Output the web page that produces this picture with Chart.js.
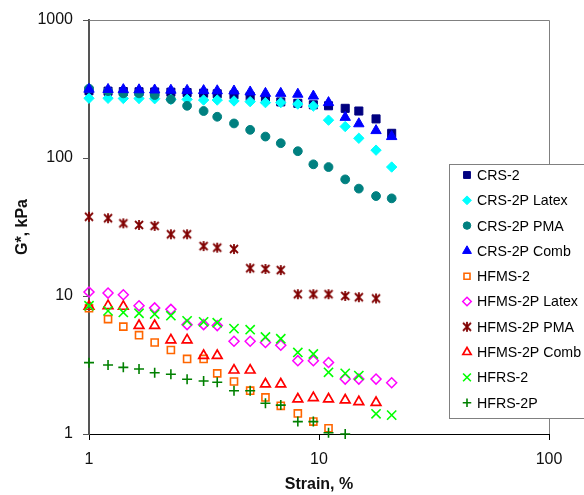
<!DOCTYPE html>
<html>
<head>
<meta charset="utf-8">
<script src="https://cdn.jsdelivr.net/npm/chart.js@4.4.1/dist/chart.umd.min.js"></script>
<style>
  html, body { margin: 0; padding: 0; background: #fff; }
  #wrap { width: 584px; height: 495px; position: relative; }
</style>
</head>
<body>
<div id="wrap"><canvas id="chart"></canvas></div>
<script>
// strain values (%) shared by all series
const strain = [1, 1.21, 1.41, 1.65, 1.93, 2.27, 2.67, 3.15, 3.61, 4.27, 5.02, 5.85, 6.82, 8.09, 9.45, 11.0, 13.0, 14.9, 17.7, 20.7];

// G*, kPa
const crs2        = [307, 305, 303, 302, 301, 300, 298, 295, 292, 287, 279, 266, 255, 249, 243, 239, 229, 219, 192, 151];
const crs2pLatex  = [271, 271, 270, 270, 269, 266, 266, 263, 263, 259, 256, 252, 252, 246, 238, 188, 169, 139, 114, 86];
const crs2pPma    = [318, 305, 294, 294, 286, 266, 239, 219, 199, 178, 160, 143, 128, 112, 90, 86, 70, 60, 53, 51];
const crs2pComb   = [315, 314, 313, 312, 311, 310, 309, 308, 307, 306, 301, 294, 294, 290, 281, 252, 197, 177, 158, 143];
const hfms2       = [8.15, 6.8, 6.0, 5.2, 4.6, 4.06, 3.5, 3.5, 2.75, 2.4, 2.06, 1.84, 1.6, 1.41, 1.23, 1.1];
const hfms2pLatex = [10.7, 10.5, 10.2, 8.5, 8.2, 8.0, 6.2, 6.2, 6.1, 4.7, 4.7, 4.6, 4.4, 3.4, 3.4, 3.3, 2.5, 2.5, 2.5, 2.35];
const hfms2pPma   = [37.5, 36.6, 33.6, 32.7, 32.2, 28, 28, 23, 22.4, 21.9, 15.9, 15.7, 15.4, 10.3, 10.3, 10.3, 10.0, 9.8, 9.6];
const hfms2pComb  = [8.4, 8.5, 8.4, 6.1, 6.1, 4.8, 4.8, 3.7, 3.7, 2.9, 2.9, 2.3, 2.3, 1.79, 1.83, 1.79, 1.76, 1.71, 1.69];
const hfrs2       = [8.5, 7.8, 7.6, 7.5, 7.4, 7.2, 6.6, 6.5, 6.4, 5.8, 5.7, 5.05, 4.9, 3.9, 3.8, 2.8, 2.75, 2.65, 1.4, 1.37];
const hfrs2p      = [3.29, 3.16, 3.04, 2.96, 2.78, 2.71, 2.49, 2.42, 2.37, 2.06, 2.06, 1.67, 1.62, 1.23, 1.23, 1.02, 1.0];

const FONT = "'Liberation Sans', Arial, sans-serif";

// Excel style asterisk marker
function makeStar(size, color) {
    const c = document.createElement('canvas');
    c.width = size; c.height = size;
    const g = c.getContext('2d');
    g.strokeStyle = color;
    g.lineWidth = 1.8;
    const m = size / 2, r = size / 2 - 1, d = r * 0.8;
    g.beginPath();
    g.moveTo(m, m - r); g.lineTo(m, m + r);
    g.moveTo(m - d, m - d); g.lineTo(m + d, m + d);
    g.moveTo(m + d, m - d); g.lineTo(m - d, m + d);
    g.stroke();
    return c;
}

const series = [
    { label: 'CRS-2',            data: crs2,        style: 'rect',     r: 5.7, fill: '#000080', color: '#000080', bw: 1 },
    { label: 'CRS-2P Latex',     data: crs2pLatex,  style: 'rectRot',  r: 5.2, fill: '#00FFFF', color: '#00FFFF', bw: 1 },
    { label: 'CRS-2P PMA',       data: crs2pPma,    style: 'circle',   r: 4.4, fill: '#008080', color: '#008080', bw: 1 },
    { label: 'CRS-2P Comb',      data: crs2pComb,   style: 'triangle', r: 6,   fill: '#0000FF', color: '#0000FF', bw: 1 },
    { label: 'HFMS-2',           data: hfms2,       style: 'rect',     r: 5,   fill: 'rgba(0,0,0,0)', color: '#FF6600', bw: 1.6 },
    { label: 'HFMS-2P Latex',    data: hfms2pLatex, style: 'rectRot',  r: 5,   fill: 'rgba(0,0,0,0)', color: '#FF00FF', bw: 1.5 },
    { label: 'HFMS-2P PMA',      data: hfms2pPma,   style: makeStar(12, '#800000'), r: 6, fill: '#800000', color: '#800000', bw: 1 },
    { label: 'HFMS-2P Comb',     data: hfms2pComb,  style: 'triangle', r: 5.6, fill: 'rgba(0,0,0,0)', color: '#FF0000', bw: 1.7 },
    { label: 'HFRS-2',           data: hfrs2,       style: 'crossRot', r: 6.5, fill: '#00FF00', color: '#00FF00', bw: 1.6 },
    { label: 'HFRS-2P',          data: hfrs2p,      style: 'cross',    r: 5,   fill: '#008000', color: '#008000', bw: 1.6 }
];

const datasets = series.map((s, i) => ({
    label: s.label,
    data: s.data.map((v, j) => ({ x: strain[j], y: v })),
    showLine: false,
    pointStyle: s.style,
    pointRadius: s.r,
    pointHoverRadius: s.r,
    pointBackgroundColor: s.fill,
    pointBorderColor: s.color,
    pointBorderWidth: s.bw,
    clip: false,
    order: series.length - i   // later series drawn on top, like Excel
}));

function drawMarker(ctx, s, x, y, r) {
    if (typeof s.style === 'object') {
        ctx.drawImage(s.style, x - s.style.width / 2, y - s.style.height / 2);
        return;
    }
    ctx.save();
    ctx.fillStyle = s.fill;
    ctx.strokeStyle = s.color;
    ctx.lineWidth = s.bw;
    ctx.beginPath();
    switch (s.style) {
        case 'rect': {
            const h = r * Math.SQRT1_2;
            ctx.rect(x - h, y - h, 2 * h, 2 * h);
            break;
        }
        case 'rectRot':
            ctx.moveTo(x, y - r); ctx.lineTo(x + r, y); ctx.lineTo(x, y + r); ctx.lineTo(x - r, y); ctx.closePath();
            break;
        case 'circle':
            ctx.arc(x, y, r, 0, Math.PI * 2);
            break;
        case 'triangle':
            ctx.moveTo(x, y - r); ctx.lineTo(x + r * 0.866, y + r * 0.5); ctx.lineTo(x - r * 0.866, y + r * 0.5); ctx.closePath();
            break;
        case 'cross':
            ctx.moveTo(x - r, y); ctx.lineTo(x + r, y); ctx.moveTo(x, y - r); ctx.lineTo(x, y + r);
            break;
        case 'crossRot': {
            const d = r * Math.SQRT1_2;
            ctx.moveTo(x - d, y - d); ctx.lineTo(x + d, y + d); ctx.moveTo(x + d, y - d); ctx.lineTo(x - d, y + d);
            break;
        }
    }
    ctx.fill();
    ctx.stroke();
    ctx.restore();
}

const framePlugin = {
    id: 'frame',
    beforeDatasetsDraw(chart) {
        const { ctx, chartArea: a } = chart;
        ctx.save();
        ctx.strokeStyle = '#808080';
        ctx.lineWidth = 1;
        ctx.beginPath();
        ctx.moveTo(a.left, a.top + 0.5); ctx.lineTo(a.right + 0.5, a.top + 0.5);
        ctx.lineTo(a.right + 0.5, a.bottom);
        ctx.stroke();
        ctx.restore();
    },
    afterDraw(chart) {
        const ctx = chart.ctx;
        ctx.save();
        ctx.fillStyle = '#fff';
        ctx.strokeStyle = '#808080';
        ctx.lineWidth = 1;
        ctx.fillRect(449.5, 164.5, 150, 254);
        ctx.strokeRect(449.5, 164.5, 150, 254);
        ctx.font = '14.2px ' + FONT;
        ctx.textBaseline = 'middle';
        series.forEach((s, i) => {
            const y = 175 + i * 25.3;
            drawMarker(ctx, s, 467, y, s.r * 0.85);
            ctx.fillStyle = '#000';
            ctx.fillText(s.label, 477, y + 1);
        });
        ctx.restore();
    }
};

new Chart(document.getElementById('chart'), {
    type: 'scatter',
    data: { datasets },
    options: {
        responsive: true,
        maintainAspectRatio: false,
        animation: false,
        devicePixelRatio: 1,
        layout: { padding: { left: 0, top: 20, right: 35, bottom: 0 } },
        plugins: { legend: { display: false }, tooltip: { enabled: false } },
        scales: {
            x: {
                type: 'logarithmic',
                min: 1, max: 100,
                afterBuildTicks: s => { s.ticks = [1, 10, 100].map(v => ({ value: v })); },
                afterFit: s => { s.height = 61; },
                ticks: {
                    callback: v => String(v),
                    font: { size: 16, family: FONT },
                    color: '#111',
                    padding: 10,
                    maxRotation: 0,
                    autoSkip: false
                },
                grid: { drawOnChartArea: false, drawTicks: true, tickLength: 6, color: '#000' },
                border: { color: '#000', width: 1 },
                title: {
                    display: true, text: 'Strain, %', color: '#111',
                    font: { size: 16, weight: 'bold', family: FONT },
                    padding: { top: 0, bottom: 1 }
                }
            },
            y: {
                type: 'logarithmic',
                min: 1, max: 1000,
                afterBuildTicks: s => { s.ticks = [1, 10, 100, 1000].map(v => ({ value: v })); },
                afterFit: s => { s.width = 89; },
                ticks: {
                    callback: v => String(v),
                    font: { size: 16, family: FONT },
                    color: '#111',
                    padding: 10,
                    autoSkip: false
                },
                grid: { drawOnChartArea: false, drawTicks: true, tickLength: 6, color: '#555' },
                border: { color: '#555', width: 2 },
                title: {
                    display: true, text: 'G*, kPa', color: '#111',
                    font: { size: 16, weight: 'bold', family: FONT },
                    padding: { top: 13, bottom: 0 }
                }
            }
        }
    },
    plugins: [framePlugin]
});
</script>
</body>
</html>
